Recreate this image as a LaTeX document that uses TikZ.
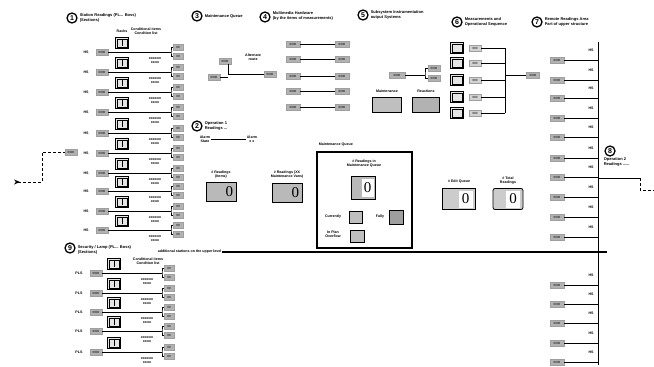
\documentclass[tikz,border=0pt]{standalone}
\usepackage{fontspec}
\setmainfont{Liberation Sans}
\newfontfamily\zerofont{Liberation Serif}
\usetikzlibrary{arrows.meta}
\begin{document}
\begin{tikzpicture}[x=1pt,y=-1pt,
 every node/.style={inner sep=0.6pt, font=\fontsize{3.6}{4}\selectfont\bfseries},
 cnum/.style={circle, draw, line width=1.3pt, minimum size=10pt, inner sep=0pt, font=\fontsize{7}{7}\selectfont\bfseries},
 ttl/.style={anchor=west, align=left, font=\fontsize{4}{4.6}\selectfont\bfseries},
 lbl/.style={align=center},
 gnode/.style={fill=gray!60, draw=gray!75, minimum width=12pt, minimum height=6.5pt, font=\fontsize{3}{3}\selectfont},
 icon/.style={draw, line width=0.9pt, fill=gray!20, minimum width=13pt, minimum height=11pt},
 wire/.style={line width=1pt},
 disp/.style={draw, line width=0.8pt, fill=gray!55, minimum width=30pt, minimum height=19pt},
 zero/.style={font=\zerofont\fontsize{15}{15}\selectfont, inner sep=0pt}
]
\useasboundingbox (0,0) rectangle (654,367);

% ---------- Section 1 ----------
\node[cnum] (c1) at (72,18) {1};
\node[ttl] (t1) at (79,18) {Station Readings (PL... Boss)\\(Sections)};
\node (h1a) at (122,31) {Racks};
\node[lbl] (h1b) at (146,31) {Conditional items\\Condition list};
\foreach \y [count=\i] in {52,72,92,112,133,153,173,191,211,230} {
  \node (s1l\i) at (86,\y) {HS};
  \node[gnode] (s1g\i) at (102,\y) {0000};
  \node[icon] (s1i\i) at (122,\y-9) {};
  \draw[line width=0.4pt] ([shift={(2,2)}]s1i\i.north west) rectangle ([shift={(-2,-2)}]s1i\i.south east);
  \draw[line width=0.4pt] (s1i\i.north) ++(0,2) -- ++(0,7);
  \node[gnode, minimum width=10pt] (s1a\i) at (178,\y-5) {00};
  \node[gnode, minimum width=10pt] (s1b\i) at (178,\y+4) {00};
  \coordinate (s1j\i) at (171,\y);
  \draw[wire] (s1g\i.east) -- (s1j\i);
  \draw[wire] (s1a\i.west) -| (s1j\i) |- (s1b\i.west);
  \node[lbl] (s1t\i) at (155,\y+9) {xxxxxx\\xxxx};
}
\node[gnode] (ext) at (71,152) {0000};
\coordinate (exta) at (14,182);
\draw[wire, densely dashed, {Stealth[reversed, length=6pt, width=5pt]}-] (exta) -- (42,182) |- (ext.west);

% ---------- Section 9 ----------
\node[cnum] (c9) at (70,248) {9};
\node[ttl] (t9) at (77,250) {Security / Lamp (PL... Boss)\\(Sections)};
\node[lbl] (h9) at (148,261) {Conditional items\\Condition list};
\foreach \y [count=\i] in {273,293,312,331,352} {
  \node (s9l\i) at (79,\y) {PLS};
  \node[gnode] (s9g\i) at (96,\y) {0000};
  \node[icon] (s9i\i) at (114,\y-9) {};
  \draw[line width=0.4pt] ([shift={(2,2)}]s9i\i.north west) rectangle ([shift={(-2,-2)}]s9i\i.south east);
  \draw[line width=0.4pt] (s9i\i.north) ++(0,2) -- ++(0,7);
  \node[gnode, minimum width=10pt] (s9a\i) at (169,\y-5) {00};
  \node[gnode, minimum width=10pt] (s9b\i) at (169,\y+4) {00};
  \coordinate (s9j\i) at (162,\y);
  \draw[wire] (s9g\i.east) -- (s9j\i);
  \draw[wire] (s9a\i.west) -| (s9j\i) |- (s9b\i.west);
  \node[lbl] (s9t\i) at (147,\y+9) {xxxxxx\\xxxx};
}

% ---------- main horizontal line ----------
\node[anchor=west] (hl) at (157,252) {additional stations on the upper level};
\draw[line width=1.2pt] (hl.east) -- (607,252);

% ---------- Section 3 ----------
\node[cnum] (c3) at (197,16) {3};
\node[ttl] (t3) at (204,16) {Maintenance Queue};
\node[gnode] (s3a) at (225,61) {0000};
\node[lbl] (s3t) at (253,57) {Alternate\\route};
\node[gnode] (s3b) at (214,77) {0000};
\node[gnode] (s3c) at (270,74) {0000};
\coordinate (s3j) at (228,74);
\draw[wire] (s3a.south -| s3j) -- (s3j) -- (s3c.west);
\draw[wire] (s3b.east) -- (s3b.east -| s3j);

% ---------- Section 4 ----------
\node[cnum] (c4) at (265,17) {4};
\node[ttl] (t4) at (272,16) {Multimedia Hardware\\(by the items of measurements)};
\foreach \y [count=\i] in {44,59,76,91,107} {
  \node[gnode, minimum width=14pt] (s4a\i) at (293,\y) {0000};
  \node[gnode, minimum width=14pt] (s4b\i) at (342,\y) {0000};
  \draw[wire] (s4a\i) -- (s4b\i);
}

% ---------- Section 2 ----------
\node[cnum] (c2) at (197,126) {2};
\node[ttl] (t2) at (204,126) {Operation 1\\Readings ...};
\node[lbl] (s2a) at (205,139) {Alarm\\State};
\node[lbl] (s2b) at (252,139) {Alarm\\x x};
\draw[wire] (s2a.east) -- (s2b.west);

% ---------- Section 5 ----------
\node[cnum] (c5) at (363,15) {5};
\node[ttl] (t5) at (370,15) {Subsystem Instrumentation\\output Systems};
\node[gnode, minimum width=16pt] (s5a) at (397,75) {0000};
\node[gnode] (s5b) at (434,68) {0000};
\node[gnode] (s5c) at (434,78) {0000};
\coordinate (s5j) at (425,75);
\draw[wire] (s5a.east) -- (s5j);
\draw[wire] (s5b.west) -| (s5j) |- (s5c.west);
\node (s5l1) at (387,91) {Maintenance};
\node (s5l2) at (426,91) {Reactions};
\node[draw, line width=0.8pt, fill=gray!50, minimum width=29pt, minimum height=15pt] (s5d1) at (387,105) {};
\node[draw, line width=0.8pt, fill=gray!60, minimum width=27pt, minimum height=15pt] (s5d2) at (426,105) {};

% ---------- Section 6 ----------
\node[cnum] (c6) at (457,22) {6};
\node[ttl] (t6) at (464,22) {Measurements and\\Operational Sequence};
\coordinate (s6top) at (505,48);
\coordinate (s6bot) at (505,113);
\draw[wire] (s6top) -- (s6bot);
\foreach \y [count=\i] in {48,63,80,97,113} {
  \node[icon] (s6i\i) at (457,\y) {};
  \draw[line width=0.4pt] ([shift={(2,2)}]s6i\i.north west) rectangle ([shift={(-2,-2)}]s6i\i.south east);
  \node[gnode, fill=gray!35] (s6g\i) at (475,\y) {000};
  \draw[wire] (s6g\i.east) -- (s6g\i.east -| s6top);
}
\node[gnode, minimum width=13pt] (s6o) at (533,75) {0000};
\draw[wire] (s6o.west -| s6top) -- (s6o.west);

% ---------- Section 7 ----------
\node[cnum] (c7) at (537,22) {7};
\node[ttl] (t7) at (544,22) {Remote Readings Area\\Part of upper structure};
\coordinate (b7top) at (598,42);
\coordinate (b7bot) at (598,365);
\draw[wire] (b7top) -- (b7bot);
\foreach \y [count=\i] in {60,80,98,118,137,158,177,197,217,237,285,304,323,343,362} {
  \node[gnode, minimum width=14pt] (s7g\i) at (557,\y) {0000};
  \draw[wire] (s7g\i.east) -- (s7g\i.east -| b7top);
  \node (s7l\i) at (591,\y-10) {HS};
}

% ---------- Section 8 ----------
\node[cnum] (c8) at (610,151) {8};
\node[ttl] (t8) at (603,162) {Operation 2\\Readings ......};
\coordinate (s8a) at (640,178);
\coordinate (s8b) at (654,190);
\draw[wire] (598,178) -- (s8a);
\draw[wire, densely dashed] (s8a) |- (s8b);

% ---------- Displays ----------
\node[lbl] (d1l) at (221,175) {\# Readings\\(Items)};
\node[disp] (d1) at (221,192) {};
\node[zero, anchor=east] (d1z) at ([xshift=-3pt]d1.east) {0};

\node[lbl] (d2l) at (287,175) {\# Readings (XX\\Maintenance Vans)};
\node[disp] (d2) at (287,193) {};
\node[zero, anchor=east] (d2z) at ([xshift=-3pt]d2.east) {0};

% Maintenance panel
\node[anchor=west] (pt) at (318,145) {Maintenance Queue};
\node[draw, line width=1.6pt, minimum width=95pt, minimum height=96pt] (panel) at (364.5,200) {};
\node[lbl] (pl) at (364,164) {\# Readings in\\Maintenance Queue};
\node[disp, minimum width=24pt, minimum height=23pt] (pd) at (363,188) {};
\node[zero, fill=white, minimum width=12pt, minimum height=18pt, anchor=east] (pdz) at ([xshift=-1.5pt]pd.east) {0};
\node (pc) at (333,217) {Currently};
\node[draw, fill=gray!50, minimum width=13pt, minimum height=12pt] (pcb) at (356,217) {};
\node (pf) at (380,217) {Fully};
\node[draw, fill=gray!75, minimum width=14pt, minimum height=14pt] (pfb) at (396,217) {};
\node[lbl] (po) at (333,234) {In Plan\\Overflow};
\node[draw, fill=gray!50, minimum width=14pt, minimum height=12pt] (pob) at (357,236) {};

\node (d3l) at (459,182) {\# Edit Queue};
\node[disp, fill=gray!40, minimum width=33pt, minimum height=21pt] (d3) at (459,199) {};
\node[zero, fill=white, minimum width=14pt, minimum height=17pt, anchor=east] (d3z) at ([xshift=-3pt]d3.east) {0};

\node[lbl] (d4l) at (508,181) {\# Total\\Readings};
\node[disp, fill=gray!40, rounded corners=2pt, minimum width=30pt, minimum height=21pt] (d4) at (508,199) {};
\node[zero, fill=white, minimum width=14pt, minimum height=17pt, anchor=east] (d4z) at ([xshift=-3pt]d4.east) {0};
\end{tikzpicture}
\end{document}
